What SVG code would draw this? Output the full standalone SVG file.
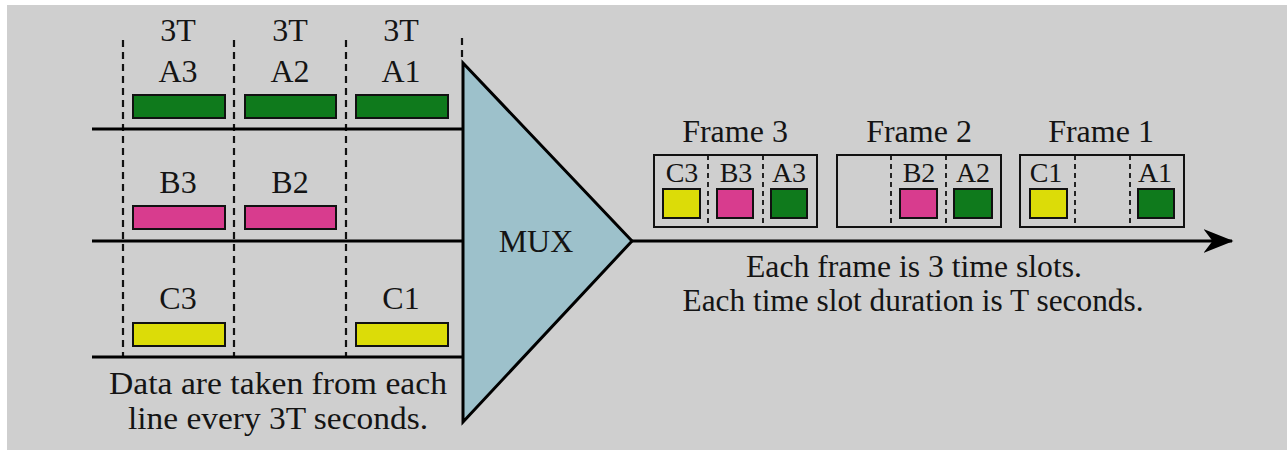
<svg xmlns="http://www.w3.org/2000/svg" width="1287" height="450" viewBox="0 0 1287 450">
<style>
  text { font-family: "Liberation Serif", "Times New Roman", serif; fill: #141414; text-anchor: middle; }
  .lab { font-size: 32px; }
  .cap { font-size: 31px; }
  .title { font-size: 32px; }
  .slot { font-size: 28px; }
  .line { stroke: #000; stroke-width: 3; fill: none; }
  .dash { stroke: #111; stroke-width: 2.2; stroke-dasharray: 7 5; fill: none; }
  .fdash { stroke: #111; stroke-width: 1.8; stroke-dasharray: 5 4; fill: none; }
  .frame { fill: none; stroke: #111; stroke-width: 2; }
  .g { fill: #0f7a1c; stroke: #111; stroke-width: 2; }
  .p { fill: #d83c8e; stroke: #111; stroke-width: 2; }
  .y { fill: #dcdc08; stroke: #111; stroke-width: 2; }
</style>
<defs>
  <marker id="arrow" markerWidth="10" markerHeight="8" refX="9.5" refY="4" orient="auto" markerUnits="strokeWidth">
    <path d="M0,0 L10,4 L0,8 L3,4 Z" fill="#000"/>
  </marker>
</defs>
<rect x="0" y="0" width="1287" height="450" fill="#ffffff"/>
<rect x="7" y="5" width="1280" height="445" fill="#cfcfcf"/>

<g id="connectors">
  <line class="dash" x1="123" y1="40" x2="123" y2="357"/>
  <line class="dash" x1="234" y1="40" x2="234" y2="357"/>
  <line class="dash" x1="346" y1="40" x2="346" y2="357"/>
  <line class="dash" x1="462" y1="38" x2="462" y2="60"/>
  <line class="line" x1="92" y1="129" x2="463" y2="129"/>
  <line class="line" x1="92" y1="241" x2="463" y2="241"/>
  <line class="line" x1="92" y1="357" x2="463" y2="357"/>
  <line class="line" x1="632" y1="241" x2="1232" y2="241" marker-end="url(#arrow)"/>
</g>

<g id="labels-3T">
  <text class="lab" x="178" y="41">3T</text>
  <text class="lab" x="290" y="41">3T</text>
  <text class="lab" x="401" y="41">3T</text>
</g>

<g id="lineA">
  <text class="lab" x="178" y="82">A3</text>
  <text class="lab" x="290" y="82">A2</text>
  <text class="lab" x="401" y="82">A1</text>
  <rect class="g" x="133" y="95" width="92" height="23"/>
  <rect class="g" x="245" y="95" width="91" height="23"/>
  <rect class="g" x="356" y="95" width="92" height="23"/>
</g>

<g id="lineB">
  <text class="lab" x="178" y="193">B3</text>
  <text class="lab" x="290" y="193">B2</text>
  <rect class="p" x="133" y="206" width="92" height="23"/>
  <rect class="p" x="245" y="206" width="91" height="23"/>
</g>

<g id="lineC">
  <text class="lab" x="178" y="309">C3</text>
  <text class="lab" x="401" y="309">C1</text>
  <rect class="y" x="133" y="323" width="92" height="23"/>
  <rect class="y" x="356" y="323" width="92" height="23"/>
</g>

<g id="caption-left">
  <text class="cap" x="278" y="394" textLength="338" lengthAdjust="spacingAndGlyphs">Data are taken from each</text>
  <text class="cap" x="278" y="429" textLength="300" lengthAdjust="spacingAndGlyphs">line every 3T seconds.</text>
</g>

<g id="mux">
  <polygon points="463,63 632,241 463,422" fill="#9dc1cb" stroke="#000" stroke-width="3" stroke-linejoin="miter"/>
  <text class="title" x="536" y="252">MUX</text>
</g>

<g id="frame3">
  <text class="title" x="735" y="142">Frame 3</text>
  <rect class="frame" x="654" y="155" width="163" height="72"/>
  <line class="fdash" x1="708" y1="155" x2="708" y2="227"/>
  <line class="fdash" x1="763" y1="155" x2="763" y2="227"/>
  <text class="slot" x="682" y="182">C3</text>
  <text class="slot" x="736" y="182">B3</text>
  <text class="slot" x="789" y="182">A3</text>
  <rect class="y" x="663" y="189" width="37" height="29"/>
  <rect class="p" x="717" y="189" width="36" height="29"/>
  <rect class="g" x="771" y="189" width="36" height="29"/>
</g>

<g id="frame2">
  <text class="title" x="919" y="142">Frame 2</text>
  <rect class="frame" x="837" y="155" width="164" height="72"/>
  <line class="fdash" x1="891" y1="155" x2="891" y2="227"/>
  <line class="fdash" x1="946" y1="155" x2="946" y2="227"/>
  <text class="slot" x="919" y="182">B2</text>
  <text class="slot" x="973" y="182">A2</text>
  <rect class="p" x="900" y="189" width="37" height="29"/>
  <rect class="g" x="954" y="189" width="38" height="29"/>
</g>

<g id="frame1">
  <text class="title" x="1101" y="142">Frame 1</text>
  <rect class="frame" x="1020" y="155" width="164" height="72"/>
  <line class="fdash" x1="1075" y1="155" x2="1075" y2="227"/>
  <line class="fdash" x1="1130" y1="155" x2="1130" y2="227"/>
  <text class="slot" x="1046" y="182">C1</text>
  <text class="slot" x="1155" y="182">A1</text>
  <rect class="y" x="1030" y="189" width="37" height="29"/>
  <rect class="g" x="1138" y="189" width="36" height="29"/>
</g>

<g id="caption-right">
  <text class="cap" x="914" y="277" textLength="336" lengthAdjust="spacingAndGlyphs">Each frame is 3 time slots.</text>
  <text class="cap" x="913" y="311" textLength="461" lengthAdjust="spacingAndGlyphs">Each time slot duration is T seconds.</text>
</g>
</svg>
